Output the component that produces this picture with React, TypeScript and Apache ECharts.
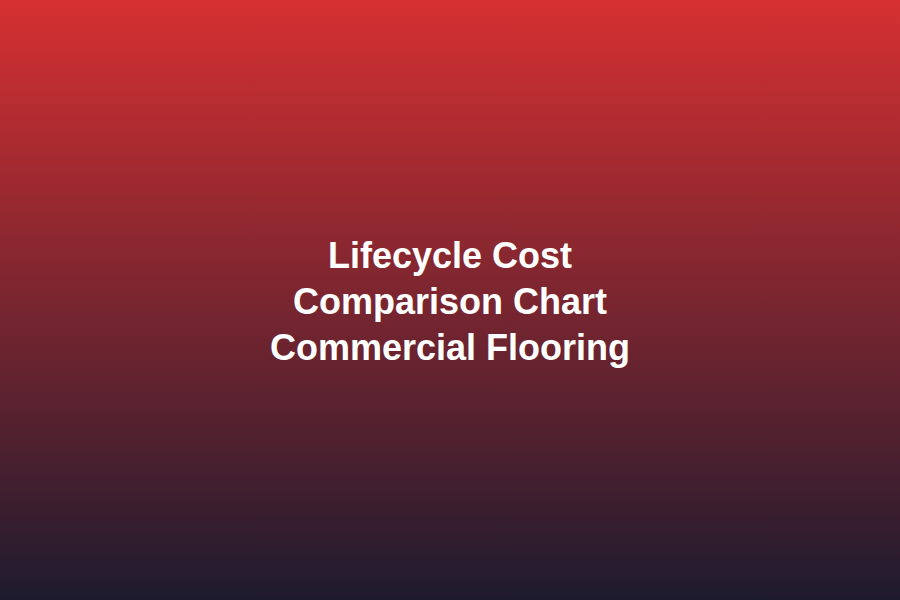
import React, { useEffect, useRef } from 'react';
import * as echarts from 'echarts';

const titleLines = ['Lifecycle Cost', 'Comparison Chart', 'Commercial Flooring'];
const gradientStops = ['#d63031', '#1e1b2e'];

const App: React.FC = () => {
  const chartRef = useRef<HTMLDivElement>(null);

  useEffect(() => {
    if (!chartRef.current) return;
    const chart = echarts.init(chartRef.current, undefined, { renderer: 'svg' });

    chart.setOption({
      animation: false,
      backgroundColor: new echarts.graphic.LinearGradient(0, 0, 0, 1, [
        { offset: 0, color: gradientStops[0] },
        { offset: 1, color: gradientStops[1] },
      ]),
      graphic: [
        {
          type: 'text',
          x: 450,
          y: 301,
          style: {
            text: titleLines.join('\n'),
            fill: '#ffffff',
            font: 'bold 36px "Liberation Sans", Arial, sans-serif',
            lineHeight: 46,
            align: 'center',
            verticalAlign: 'middle',
          },
        },
      ],
    });

    return () => {
      chart.dispose();
    };
  }, []);

  return (
    <div
      ref={chartRef}
      style={{ position: 'fixed', left: 0, top: 0, width: '900px', height: '600px' }}
    />
  );
};

export default App;
